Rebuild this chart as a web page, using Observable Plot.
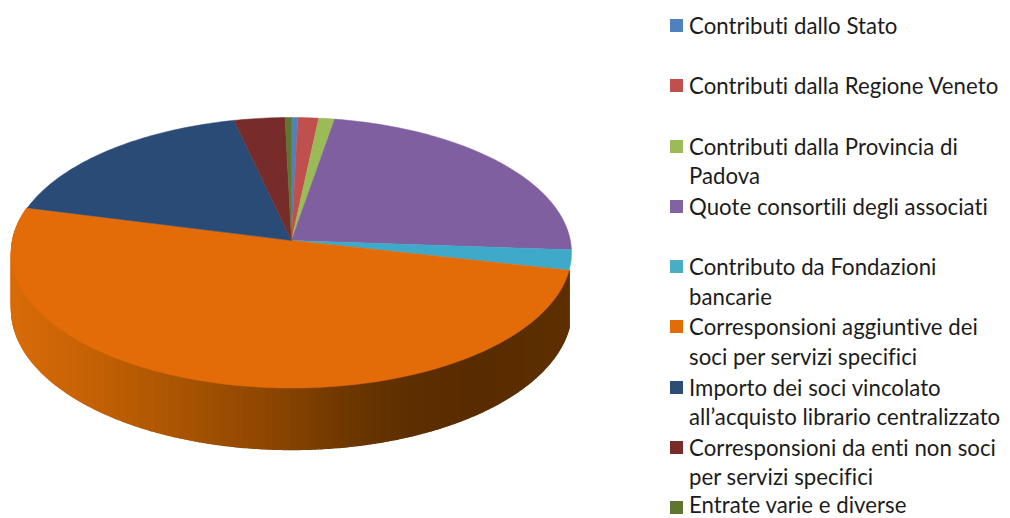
<!DOCTYPE html>
<html lang="it">
<head>
<meta charset="utf-8">
<script src="https://cdn.jsdelivr.net/npm/d3@7"></script>
<script src="https://cdn.jsdelivr.net/npm/@observablehq/plot@0.6"></script>
<style>
html,body{margin:0;padding:0;background:#fff}
#wrap{position:relative;width:1010px;height:518px;overflow:hidden}
#legend{position:absolute;left:670px;top:11px;font:22.2px/29.5px Lato,"Noto Sans",sans-serif;font-variant-ligatures:none;letter-spacing:.04px;color:#1c1c1c}
.item{position:relative;height:60.25px;padding-left:19px;box-sizing:border-box;white-space:nowrap}
.item:last-child{height:25px}
.item:last-child div{line-height:20px;padding-top:1.5px}
.sw{position:absolute;left:0;top:8px;width:13px;height:13px}
</style>
</head>
<body>
<div id="wrap"><div id="chart"></div><div id="legend"></div></div>
<script>
const categories = ["Contributi dallo Stato","Contributi dalla Regione Veneto","Contributi dalla Provincia di\nPadova","Quote consortili degli associati","Contributo da Fondazioni\nbancarie","Corresponsioni aggiuntive dei\nsoci per servizi specifici","Importo dei soci vincolato\nall\u2019acquisto librario centralizzato","Corresponsioni da enti non soci\nper servizi specifici","Entrate varie e diverse"];
const shares = [0.4, 1.3, 1.0, 23.4, 2.4, 50.5, 17.4, 3.2, 0.4];
const faceColors = ["#4f81bd","#c0504d","#9bbb59","#7f5fa0","#3fa9c9","#e36c09","#2b4b77","#772c2a","#5f7530"];
const swatchColors = ["#4f81bd","#c0504d","#9bbb59","#8064a2","#4bacc6","#e36c09","#2c4d75","#772c2a","#5f7530"];
const sideStops = ["#d96c08","#c96306","#b25903","#9c4e02","#864302","#673400","#5a2d00","#5a2d00","#5e3000"];
const sideCategory = 5;

// perspective pie geometry
const cx = 291, cy = 240, up = 123, down = 147.5, halfW = 280, depth = 61.5;
const b = (down - up) / (down + up), a = down * (1 - b), c = halfW * Math.sqrt(1 - b * b);
const proj = (deg, extra = 0) => {
  const t = deg * Math.PI / 180, u = Math.sin(t), v = -Math.cos(t), k = 1 / (1 - b * v);
  return {x: cx + c * u * k, y: cy + a * v * k + extra * depth * k * (1 - b)};
};
const total = d3.sum(shares);
let acc = 0;
const slices = shares.map((s, i) => { const start = acc; acc += s * 360 / total; return {i, start, end: acc}; });

const facePts = slices.flatMap(({i, start, end}) => {
  const n = Math.max(2, Math.ceil(end - start));
  const pts = [{x: cx, y: cy, key: categories[i]}];
  for (let j = 0; j <= n; j++) pts.push({...proj(start + (end - start) * j / n), key: categories[i]});
  return pts;
});
const side = slices[sideCategory];
const shade = d3.interpolateRgbBasis(sideStops);
const stripPts = [];
const steps = Math.ceil(side.end - side.start) * 2;
for (let j = 0; j < steps; j++) {
  const a0 = side.end - (side.end - side.start) * j / steps, a1 = side.end - (side.end - side.start) * (j + 1) / steps;
  const col = shade(Math.min(1, Math.max(0, (proj((a0 + a1) / 2).x - (cx - halfW)) / (2 * halfW)))).toString();
  [proj(a0), proj(a1), proj(a1, 1), proj(a0, 1)].forEach(p => stripPts.push({...p, key: j, col}));
}

const plot = Plot.plot({
  width: 1010, height: 518, margin: 0,
  x: {domain: [0, 1010], range: [0, 1010], axis: null},
  y: {domain: [0, 518], range: [0, 518], axis: null},
  color: {domain: categories, range: faceColors},
  style: {background: "#fff"},
  marks: [
    Plot.line(stripPts, {x: "x", y: "y", z: "key", fill: {value: "col", scale: null}, stroke: {value: "col", scale: null}, strokeWidth: 1.4, curve: "linear-closed"}),
    Plot.line(facePts, {x: "x", y: "y", z: "key", fill: "key", stroke: "key", strokeWidth: 0.5, curve: "linear-closed"})
  ]
});
document.getElementById("chart").append(plot);

const legend = d3.select("#legend");
categories.forEach((name, i) => {
  const row = legend.append("div").attr("class", "item");
  row.append("span").attr("class", "sw").style("background", swatchColors[i]);
  name.split("\n").forEach(line => row.append("div").text(line));
});
</script>
</body>
</html>
